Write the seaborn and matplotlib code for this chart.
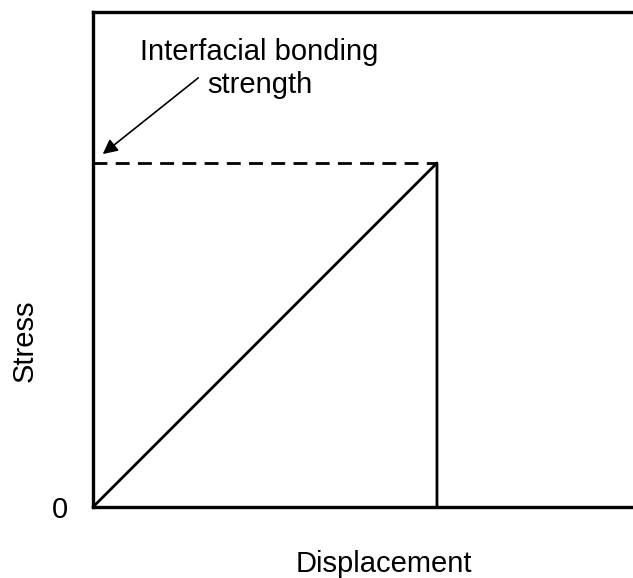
import matplotlib
matplotlib.use('Agg')
import matplotlib.pyplot as plt
import seaborn as sns

# stress-displacement curve (arbitrary units)
displacement = [0, 6.37, 6.37]
stress = [0, 6.95, 0]
bond_x = [0, 6.37]
bond_y = [6.95, 6.95]

sns.set_style('white')
plt.rcParams['font.family'] = ['Liberation Sans', 'DejaVu Sans']
plt.rcParams['text.color'] = 'black'
plt.rcParams['ytick.color'] = 'black'

fig = plt.figure(figsize=(6.33, 5.78), dpi=100)
ax = fig.add_axes([93/633, 71/578, 540/633, 495/578])

sns.lineplot(x=displacement, y=stress, sort=False, estimator=None, color='black',
             lw=2.0, ax=ax, clip_on=False)
sns.lineplot(x=bond_x, y=bond_y, sort=False, estimator=None, color='black', lw=2.0, ax=ax,
             linestyle=(0, (5, 3)))

ax.set_xlim(0, 10)
ax.set_ylim(0, 10)
ax.set_xticks([])
ax.set_yticks([0])
ax.set_yticklabels(['0'], fontsize=21)
ax.tick_params(axis='y', length=0, pad=18, labelcolor='black')

for side in ['left', 'top', 'bottom']:
    ax.spines[side].set_linewidth(2.4)
    ax.spines[side].set_color('black')
ax.spines['right'].set_visible(False)

ax.annotate('', xy=(0.18, 7.13), xytext=(1.95, 8.67),
            arrowprops=dict(arrowstyle='-|>', mutation_scale=22, lw=1.2, color='black',
                            shrinkA=0, shrinkB=0))
ax.text(0.87, 9.03, 'Interfacial bonding', fontsize=21, ha='left', va='baseline')
ax.text(2.11, 8.36, 'strength', fontsize=21, ha='left', va='baseline')

ax.text(-0.126, 0.335, 'Stress', transform=ax.transAxes, rotation=90,
        fontsize=21, ha='center', va='center')
ax.text(0.539, -0.131, 'Displacement', transform=ax.transAxes,
        fontsize=21, ha='center', va='baseline')

fig.savefig('out.png', dpi=100)
